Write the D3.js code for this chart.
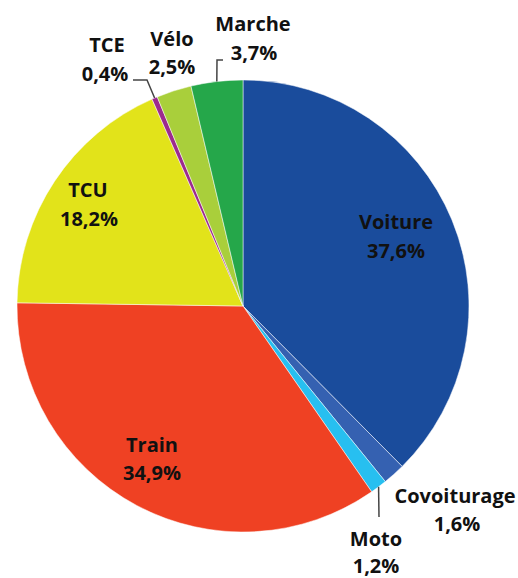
<!DOCTYPE html>
<html>
<head>
  <meta charset="utf-8" />
  <title>Parts modales</title>
  <style>
    body { margin: 0; background: #fff; }
    svg text { font-family: "Open Sans", "Noto Sans", sans-serif; font-weight: bold; fill: #111; }
  </style>
</head>
<body>
<div id="chart"></div>
<script src="https://d3js.org/d3.v7.min.js"></script>
<script>
// modes, clockwise from the top
const modes = ['Voiture', 'Covoiturage', 'Moto', 'Train', 'TCU', 'TCE', 'Vélo', 'Marche']
const shares = [37.6, 1.6, 1.2, 34.9, 18.2, 0.4, 2.5, 3.7]
const shareLabels = ['37,6%', '1,6%', '1,2%', '34,9%', '18,2%', '0,4%', '2,5%', '3,7%']
const colors = ['#1a4c9c', '#3561b1', '#27bff0', '#ef4123', '#e2e31a', '#9c2a8e', '#a9cf3b', '#25a74a']

const width = 518
const height = 578
const cx = 243
const cy = 306
const r = 226

// where each label sits (two lines: name, then share)
const labelPos = {
  'Voiture':     [[396, 222], [396, 251]],
  'Covoiturage': [[455, 496], [457, 524]],
  'Moto':        [[376, 539], [376, 566]],
  'Train':       [[152, 445], [152, 473]],
  'TCU':         [[88, 190],  [89, 219]],
  'TCE':         [[107, 45],  [105, 74]],
  'Vélo':        [[172, 39],  [172, 67]],
  'Marche':      [[253, 24],  [254, 53]]
}
// leader lines: from the slice's outer edge through these bends to the label
const leaders = {
  'TCE':    [[147, 80], [133, 80]],
  'Marche': [[217, 60], [223, 60]],
  'Moto':   [[379, 517]]
}

const svg = d3.select('#chart').append('svg')
  .attr('width', width)
  .attr('height', height)

const g = svg.append('g').attr('transform', `translate(${cx},${cy})`)

const pie = d3.pie().sort(null).value(d => d)
const arcs = pie(shares)
const arc = d3.arc().innerRadius(0).outerRadius(r)
const edge = d3.arc().innerRadius(r).outerRadius(r)

g.selectAll('path.slice')
  .data(arcs)
  .enter().append('path')
  .attr('class', 'slice')
  .attr('d', arc)
  .attr('fill', (d, i) => colors[i])
  .attr('stroke', '#fff')
  .attr('stroke-width', 0.5)

const line = d3.line()
modes.forEach((m, i) => {
  if (!leaders[m]) return
  const p = edge.centroid(arcs[i])
  const pts = [[p[0] + cx, p[1] + cy]].concat(leaders[m])
  svg.append('path')
    .attr('d', line(pts))
    .attr('fill', 'none')
    .attr('stroke', '#444')
    .attr('stroke-width', 1.5)
})

modes.forEach((m, i) => {
  const pos = labelPos[m]
  ;[m, shareLabels[i]].forEach((t, k) => {
    svg.append('text')
      .attr('x', pos[k][0])
      .attr('y', pos[k][1])
      .attr('dy', '0.36em')
      .attr('text-anchor', 'middle')
      .style('font-size', '20px')
      .text(t)
  })
})
</script>
</body>
</html>
